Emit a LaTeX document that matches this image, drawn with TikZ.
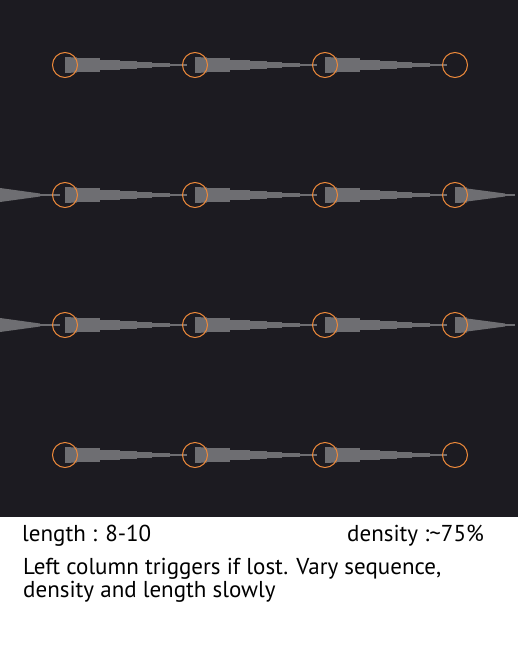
\documentclass[tikz,border=0pt]{standalone}
\usepackage{fontspec}
\setmainfont{PT Sans}
\usepackage{tikz}
\usetikzlibrary{calc}
\definecolor{panelDark}{RGB}{28,27,33}
\definecolor{beamGray}{RGB}{110,110,114}
\definecolor{ringOrange}{RGB}{238,138,58}
\pgfdeclarelayer{bg}
\pgfdeclarelayer{beams}
\pgfsetlayers{bg,beams,main}

\begin{document}
\begin{tikzpicture}[x=1pt, y=-1pt,
    ring/.style={circle, draw=ringOrange, line width=1pt, minimum size=25pt, inner sep=0pt},
    beam/.style={fill=beamGray},
    tail/.style={draw=beamGray, line width=1.3pt},
    caption/.style={anchor=base west, inner sep=0pt, font=\fontsize{23}{27}\selectfont}]
    \useasboundingbox (0,0) rectangle (518,648);
    \begin{pgfonlayer}{bg}
        \fill[panelDark] (0,0) rectangle (518,517);
    \end{pgfonlayer}
    % grid of rings
    \foreach \r in {1,...,4} {
        \foreach \c in {1,...,4} {
            \node[ring] (c\r\c) at ({65+130*(\c-1)}, {65+130*(\r-1)}) {};
        }
    }
    % stepped beams between rings
    \begin{pgfonlayer}{beams}
    \foreach \r in {1,...,4} {
        \foreach \c [evaluate=\c as \d using int(\c+1)] in {1,2,3} {
            \fill[beam] ($(c\r\c.center)+(0,-8)$) -- ($(c\r\c.center)+(12,-7.5)$)
                -- ($(c\r\c.center)+(12,7.5)$) -- ($(c\r\c.center)+(0,8)$) -- cycle;
            \foreach \a/\b/\h in {12/35/6.8, 35/55/5, 55/72/3.7, 72/87/2.7, 87/105/1.7}
                \fill[beam] ($(c\r\c.center)+(\a,-\h)$) rectangle ($(c\r\c.center)+(\b,\h)$);
            \draw[tail] ($(c\r\c.center)+(104,0)$) -- ($(c\r\d.center)+(-8,0)$);
        }
    }
    % beams entering and leaving the middle rows
    \foreach \r in {2,3} {
        \coordinate (in\r) at (0, {65+130*(\r-1)});
        \coordinate (out\r) at (515, {65+130*(\r-1)});
        \fill[beam] ($(in\r)+(0,-7)$) -- ($(c\r1.center)+(-25,-1.5)$)
            -- ($(c\r1.center)+(-25,1.5)$) -- ($(in\r)+(0,7)$) -- cycle;
        \draw[tail] ($(c\r1.center)+(-27,0)$) -- ($(c\r1.center)+(-5,0)$);
        \fill[beam] ($(c\r4.center)+(0,-8)$) -- ($(c\r4.center)+(12,-7.5)$)
            -- ($(c\r4.center)+(12,-6.5)$) -- ($(out\r)+(-10,-1.5)$)
            -- ($(out\r)+(-10,1.5)$) -- ($(c\r4.center)+(12,6.5)$)
            -- ($(c\r4.center)+(12,7.5)$) -- ($(c\r4.center)+(0,8)$) -- cycle;
        \draw[tail] ($(out\r)+(-12,0)$) -- (out\r);
    }
    \end{pgfonlayer}
    % notes
    \node[caption] (len) at (22,541) {length : 8-10};
    \node[caption] (dens) at (347,541) {density :\textasciitilde75\%};
    \node[caption] (note1) at (23,574) {Left column triggers if lost. Vary sequence,};
    \node[caption] (note2) at (23,597) {density and length slowly};
\end{tikzpicture}
\end{document}
